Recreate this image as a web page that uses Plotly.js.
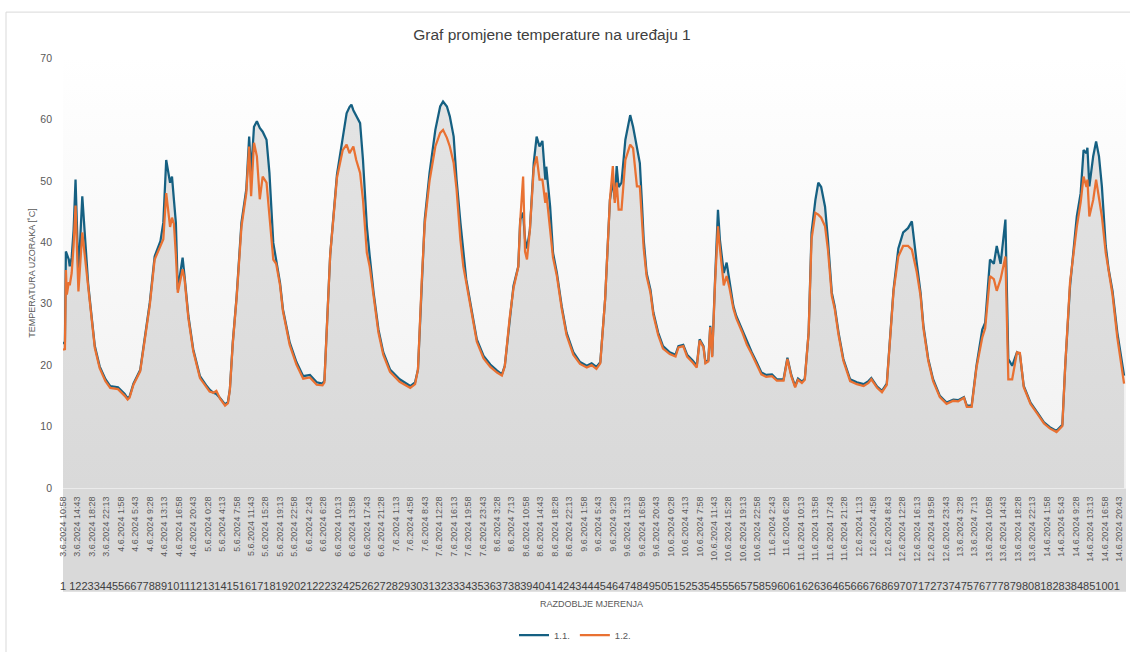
<!DOCTYPE html>
<html>
<head>
<meta charset="utf-8">
<script src="https://cdn.plot.ly/plotly-3.0.1.min.js"></script>
<style>
  html, body { margin: 0; padding: 0; background: #ffffff; }
  #chart { width: 1130px; height: 652px; }
</style>
</head>
<body>
<div id="chart"></div>
<script>
// Measurement number (15-minute samples), read where the curves change direction
const measurementNo = [
  1, 3, 4, 5, 7, 8, 10, 12, 14, 16, 17, 21, 25, 27, 31, 34, 39, 45, 50, 58,
  65, 68, 70, 74, 81, 86, 91, 96, 102, 105, 108, 112, 114, 116, 118, 120, 125, 127, 131, 136,
  143, 150, 153, 157, 160, 164, 169, 172, 174, 177, 181, 186, 191, 194, 196, 199, 202, 205, 208, 212,
  215, 219, 222, 226, 229, 236, 243, 250, 257, 264, 270, 272, 278, 285, 291, 295, 298, 300, 302, 305,
  309, 312, 316, 319, 323, 328, 333, 340, 350, 361, 366, 369, 373, 376, 381, 387, 392, 395, 399, 402,
  406, 409, 413, 416, 419, 425, 430, 437, 444, 451, 456, 459, 464, 468, 473, 475, 478, 480, 482, 485,
  489, 492, 495, 498, 501, 502, 506, 509, 513, 518, 523, 530, 537, 544, 549, 554, 558, 563, 568, 571,
  573, 575, 577, 580, 584, 589, 592, 596, 599, 601, 603, 606, 610, 613, 618, 623, 630, 636, 639, 644,
  648, 654, 658, 661, 665, 667, 670, 672, 674, 677, 680, 682, 686, 689, 692, 696, 699, 705, 710, 715,
  720, 725, 730, 736, 741, 748, 752, 756, 760, 763, 767, 770, 774, 777, 781, 784, 787, 791, 794, 798,
  801, 805, 810, 817, 824, 831, 836, 839, 845, 850, 855, 858, 862, 867, 872, 877, 881, 886, 890, 893,
  898, 903, 910, 917, 924, 929, 935, 938, 943, 948, 954, 957, 962, 966, 969, 973, 978, 981, 985, 990,
  993, 997, 1004, 1011, 1018, 1024, 1031, 1037, 1040, 1045, 1049, 1052, 1056, 1059, 1062, 1063, 1065, 1069, 1072, 1075,
  1078, 1082, 1085, 1089, 1094, 1099, 1101
];

// Series 1.1. (°C)
const temp11 = [
  23.5, 23.8, 38.5, 38, 37.2, 36.1, 37.5, 42, 50.2, 40, 34.5, 47.5, 36.7, 33.4, 27.4, 23.1, 19.8, 17.7, 16.6, 16.4,
  15.3, 14.6, 14.9, 17, 19.2, 24.7, 30.2, 37.7, 40.2, 43.2, 53.4, 49.7, 50.7, 46.9, 43.2, 32.3, 37.5, 34.5, 28, 22.6,
  18.2, 16.6, 16, 15.5, 15.3, 14.6, 13.6, 14, 16.1, 23.7, 31.2, 43.2, 48.6, 57.2, 51.3, 58.8, 59.7, 58.6, 58, 56.7,
  51.3, 39.9, 37.2, 33.4, 29.1, 23.7, 20.5, 18.2, 18.4, 17.2, 17, 17.5, 38, 51, 57, 61, 62, 62.4, 61.5, 60.5,
  59.4, 53.4, 42.6, 37.7, 31.8, 25.8, 22.1, 19.3, 17.7, 16.6, 17.2, 19.3, 34, 43.7, 51.3, 58.3, 62.1, 62.9, 62.1, 60.5,
  57.2, 50.2, 43.2, 38.3, 34, 28.6, 24.2, 21.5, 20.1, 19.1, 18.5, 19.9, 27.4, 32.9, 36.1, 43.7, 44.8, 40.5, 39, 42,
  52.9, 57.2, 55.6, 56.5, 50.2, 52.3, 45.8, 38.3, 35, 29.6, 25.3, 22.1, 20.5, 19.9, 20.3, 19.7, 20.5, 30.7, 46.9, 50,
  47, 52.4, 49, 49.7, 56.7, 60.7, 58.8, 55.6, 52.9, 46.9, 40.4, 35, 32.3, 28.6, 25.3, 23.1, 22.1, 21.7, 23.1, 23.3,
  21.7, 20.7, 19.9, 24.2, 23.1, 20.5, 20.8, 26.4, 21.5, 34, 45.3, 40.4, 35, 36.7, 33.4, 29.6, 28, 25.8, 23.7, 22.1,
  20.5, 18.8, 18.4, 18.5, 17.7, 17.7, 21.2, 18.4, 16.6, 17.8, 17.3, 17.8, 25.3, 41.6, 46.9, 49.7, 49, 45.8, 40.4, 31.8,
  29.6, 25.3, 21, 17.7, 17.2, 16.9, 17.4, 17.9, 16.5, 15.8, 17, 23.1, 32.3, 39, 41.6, 42.3, 43.4, 36.7, 31.8, 26.4,
  21, 17.7, 15, 13.9, 14.4, 14.3, 14.8, 13.4, 13.4, 19.9, 25.8, 26.9, 37.2, 36.5, 39.4, 36.5, 43.7, 21, 19.9, 22.1,
  21.8, 16.6, 13.9, 12.3, 10.7, 9.9, 9.3, 10.3, 19.9, 32.9, 39.4, 44.2, 48, 55, 54.5, 55.4, 49.1, 54, 56.4, 54,
  49.1, 39.4, 35.6, 32.1, 25.3, 19.9, 18.3
];

// Series 1.2. (°C)
const temp12 = [
  22.5, 22.6, 35.5, 31.5, 33.5, 33, 35, 39.5, 46, 37.7, 32, 41.6, 35.5, 33, 27, 22.8, 19.5, 17.4, 16.3, 16.1,
  15, 14.4, 14.7, 16.8, 19, 24.5, 29.8, 37.2, 39.5, 40.5, 48, 42.5, 44, 43, 38, 31.8, 35.6, 34, 27.6, 22.3,
  17.9, 16.3, 15.7, 15.5, 15.8, 14.5, 13.4, 13.8, 16, 23.5, 31, 42.5, 48, 55.6, 47.5, 56.2, 54, 47, 50.7, 49.7,
  44.2, 37.2, 36.5, 33, 28.8, 23.3, 20.1, 17.8, 18, 16.8, 16.7, 17.2, 38, 50.5, 55, 55.9, 54.5, 55, 55.6, 53.4,
  51.3, 46.9, 38.3, 36, 31.3, 25.3, 21.7, 18.9, 17.3, 16.3, 16.9, 19.3, 34, 43, 50, 55.6, 57.8, 58.3, 57, 55.6,
  52.9, 48.6, 40.4, 36.1, 33.5, 28.2, 23.8, 21.1, 19.7, 18.8, 18.3, 19.8, 27.6, 32.5, 36, 43.5, 50.7, 38.5, 37.2, 42,
  52, 54, 50.2, 50.2, 46.4, 48.1, 42.6, 37.5, 34.5, 29.2, 24.9, 21.7, 20.2, 19.6, 20, 19.4, 20.3, 30.7, 46.9, 52.4,
  46.4, 49.7, 45.3, 45.3, 53.4, 55.9, 55.3, 49.1, 49.1, 44, 39, 34.5, 31.8, 28.2, 24.9, 22.7, 21.8, 21.4, 22.9, 23.1,
  21.4, 20.4, 19.6, 24, 22.9, 20.3, 20.6, 26.2, 21.3, 33.5, 42.6, 39, 33, 34.5, 32.5, 29.2, 27.6, 25.4, 23.3, 21.8,
  20.2, 18.5, 18.1, 18.2, 17.5, 17.5, 21, 18.2, 16.4, 17.6, 17.1, 17.6, 25.3, 40.5, 44.8, 44.5, 44, 42.6, 38.8, 31.3,
  29.2, 24.9, 20.7, 17.4, 16.9, 16.6, 17.1, 17.7, 16.3, 15.6, 16.8, 23, 32, 37.7, 39.4, 39.4, 38.8, 35.2, 31.3, 26,
  20.7, 17.4, 14.8, 13.7, 14.2, 14.1, 14.7, 13.2, 13.2, 19.6, 24.5, 26, 34.5, 34, 32.1, 34, 37.7, 17.7, 17.7, 22.1,
  22, 16.4, 13.7, 12.1, 10.5, 9.7, 9.1, 10.1, 19.9, 33.5, 39, 42.5, 46.5, 50.7, 49, 50.2, 44.2, 46.9, 50.2, 47.5,
  44.2, 38.3, 35.6, 31.5, 24.5, 18.5, 17
];

// Category labels shown every 15th measurement
const tickLabels = [
  "3.6.2024 10:58", "3.6.2024 14:43", "3.6.2024 18:28", "3.6.2024 22:13",
  "4.6.2024 1:58", "4.6.2024 5:43", "4.6.2024 9:28", "4.6.2024 13:13", "4.6.2024 16:58", "4.6.2024 20:43",
  "5.6.2024 0:28", "5.6.2024 4:13", "5.6.2024 7:58", "5.6.2024 11:43", "5.6.2024 15:28", "5.6.2024 19:13", "5.6.2024 22:58",
  "6.6.2024 2:43", "6.6.2024 6:28", "6.6.2024 10:13", "6.6.2024 13:58", "6.6.2024 17:43", "6.6.2024 21:28",
  "7.6.2024 1:13", "7.6.2024 4:58", "7.6.2024 8:43", "7.6.2024 12:28", "7.6.2024 16:13", "7.6.2024 19:58", "7.6.2024 23:43",
  "8.6.2024 3:28", "8.6.2024 7:13", "8.6.2024 10:58", "8.6.2024 14:43", "8.6.2024 18:28", "8.6.2024 22:13",
  "9.6.2024 1:58", "9.6.2024 5:43", "9.6.2024 9:28", "9.6.2024 13:13", "9.6.2024 16:58", "9.6.2024 20:43",
  "10.6.2024 0:28", "10.6.2024 4:13", "10.6.2024 7:58", "10.6.2024 11:43", "10.6.2024 15:28", "10.6.2024 19:13", "10.6.2024 22:58",
  "11.6.2024 2:43", "11.6.2024 6:28", "11.6.2024 10:13", "11.6.2024 13:58", "11.6.2024 17:43", "11.6.2024 21:28",
  "12.6.2024 1:13", "12.6.2024 4:58", "12.6.2024 8:43", "12.6.2024 12:28", "12.6.2024 16:13", "12.6.2024 19:58", "12.6.2024 23:43",
  "13.6.2024 3:28", "13.6.2024 7:13", "13.6.2024 10:58", "13.6.2024 14:43", "13.6.2024 18:28", "13.6.2024 22:13",
  "14.6.2024 1:58", "14.6.2024 5:43", "14.6.2024 9:28", "14.6.2024 13:13", "14.6.2024 16:58", "14.6.2024 20:43"
];

const seriesNames = ["1.1.", "1.2."];
const chartTitle = "Graf promjene temperature na uređaju 1";
const xTitle = "RAZDOBLJE MJERENJA";
const yTitle = "TEMPERATURA UZORAKA [˚C]";
// overlapping measurement-number row printed under the dates
const numberRow = "1 1223344556677889" +
  "10111213141516171819" + "20212223242526272829" + "30313233343536373839" +
  "40414243444546474849" + "50515253545556575859" + "60616263646566676869" +
  "70717273747576777879" + "808182838485" + "1001";

const tickStep = 15;
const tickVals = tickLabels.map((_, i) => 1 + i * tickStep);

const BLUE = "#156082";
const ORANGE = "#E97132";
const TXT = "#595959";
const FONT = "Liberation Sans, Arial, sans-serif";

const bgSvg = "<svg xmlns='http://www.w3.org/2000/svg' width='100' height='100' preserveAspectRatio='none'>" +
  "<defs><linearGradient id='g' x1='0' y1='0' x2='0' y2='1'>" +
  "<stop offset='0' stop-color='#ffffff'/><stop offset='0.12' stop-color='#fdfdfd'/>" +
  "<stop offset='1' stop-color='#f1f1f1'/></linearGradient></defs>" +
  "<rect width='100' height='100' fill='url(#g)'/></svg>";
const bgUri = "data:image/svg+xml;charset=utf-8," + encodeURIComponent(bgSvg);

const traces = [
  {
    type: "scatter", mode: "none", x: measurementNo, y: temp11,
    fill: "tozeroy",
    fillgradient: { type: "vertical", start: 0, stop: 65,
      colorscale: [[0, "#d9d9d9"], [1, "#e4e4e4"]] },
    showlegend: false, hoverinfo: "skip"
  },
  {
    type: "scatter", mode: "lines", name: seriesNames[0],
    x: measurementNo, y: temp11,
    line: { color: BLUE, width: 2.25 }
  },
  {
    type: "scatter", mode: "lines", name: seriesNames[1],
    x: measurementNo, y: temp12,
    line: { color: ORANGE, width: 2.25 }
  }
];

const W = 1130, H = 652;
const L = 63, R = 4, T = 58, B = 163;
const pw = W - L - R, ph = H - T - B;
const px = v => (v - L) / pw;
const py = v => (H - B - v) / ph;

const layout = {
  width: W, height: H,
  margin: { l: L, r: R, t: T, b: B },
  paper_bgcolor: "#ffffff",
  plot_bgcolor: "rgba(0,0,0,0)",
  font: { family: FONT, color: TXT, size: 10 },
  title: {
    text: chartTitle,
    font: { family: FONT, size: 15.5, color: "#404040" },
    x: 552 / W, xanchor: "center", y: 1 - 35 / H, yanchor: "middle"
  },
  xaxis: {
    range: [1, 1103],
    tickmode: "array", tickvals: tickVals, ticktext: tickLabels,
    tickangle: -90, ticks: "", ticklabelstandoff: 4,
    tickfont: { family: FONT, size: 9, color: TXT },
    showgrid: false, zeroline: false,
    showline: true, linecolor: "#ebebeb", linewidth: 1
  },
  yaxis: {
    range: [0, 70], dtick: 10, ticks: "", ticklabelstandoff: 10,
    tickfont: { family: FONT, size: 10.5, color: TXT },
    showgrid: false, zeroline: false, showline: false,
    title: { text: yTitle, font: { family: FONT, size: 9, color: TXT } }
  },
  showlegend: true,
  legend: {
    orientation: "h", x: px(575), xanchor: "center", y: py(635), yanchor: "middle",
    font: { family: FONT, size: 9.5, color: TXT }, bgcolor: "rgba(0,0,0,0)"
  },
  images: [{
    source: bgUri, xref: "paper", yref: "paper", x: 0, y: 1, sizex: 1, sizey: 1,
    xanchor: "left", yanchor: "top", sizing: "stretch", layer: "below"
  }],
  shapes: [
    { type: "rect", xref: "paper", yref: "paper", x0: 0, x1: 1, y0: py(593), y1: 0,
      fillcolor: "#d9d9d9", line: { width: 0 }, layer: "below" },
    { type: "rect", xref: "paper", yref: "paper", x0: px(6), x1: px(1140), y0: py(660), y1: py(12),
      fillcolor: "rgba(0,0,0,0)", line: { color: "#d9d9d9", width: 1 }, layer: "below" }
  ],
  annotations: [
    { text: numberRow, xref: "paper", yref: "paper", x: px(58), y: py(587),
      xanchor: "left", yanchor: "middle", showarrow: false,
      font: { family: FONT, size: 11, color: "#404040" } },
    { text: xTitle, xref: "paper", yref: "paper", x: px(591), y: py(605),
      xanchor: "center", yanchor: "middle", showarrow: false,
      font: { family: FONT, size: 9, color: TXT } }
  ]
};

Plotly.newPlot("chart", traces, layout, { displayModeBar: false, responsive: false });
</script>
</body>
</html>
